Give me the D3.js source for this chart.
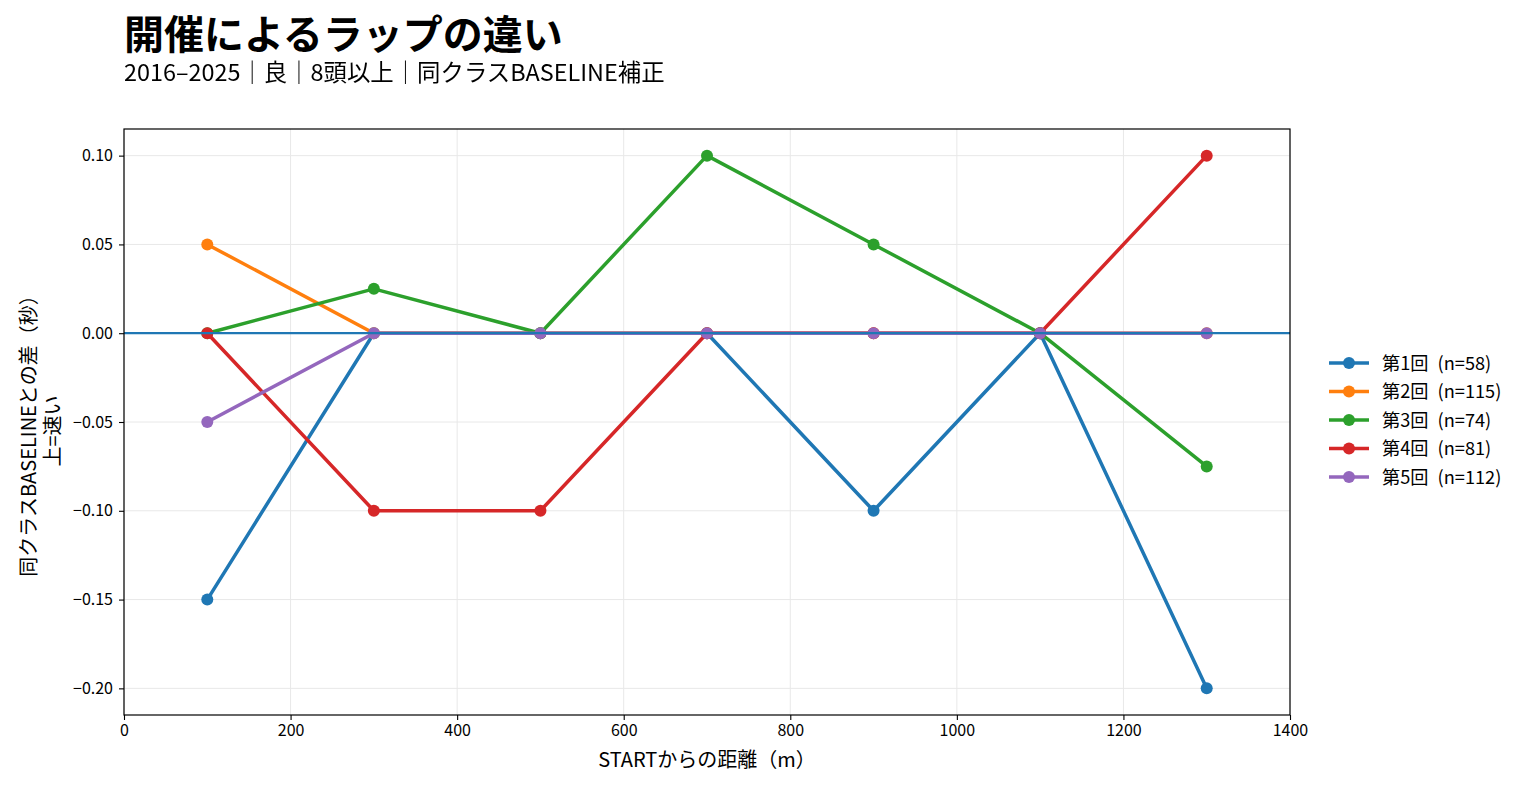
<!DOCTYPE html>
<html><head><meta charset="utf-8">
<script src="https://cdn.jsdelivr.net/npm/d3@7"></script>
<style>body{margin:0;background:#fff}text{font-family:"Noto Sans CJK JP","Noto Sans",sans-serif}.sub{filter:grayscale(1)}</style>
</head><body><svg id="c" width="1525" height="789"></svg>
<script>
const distances = [100, 300, 500, 700, 900, 1100, 1300];
const seriesNames = ["第1回 (n=58)", "第2回 (n=115)", "第3回 (n=74)", "第4回 (n=81)", "第5回 (n=112)"];
const s1 = [-0.15, 0, 0, 0, -0.10, 0, -0.20];
const s2 = [0.05, 0, 0, 0, 0, 0, 0];
const s3 = [0, 0.025, 0, 0.10, 0.05, 0, -0.075];
const s4 = [0, -0.10, -0.10, 0, 0, 0, 0.10];
const s5 = [-0.05, 0, 0, 0, 0, 0, 0];
const colors = ["#1f77b4", "#ff7f0e", "#2ca02c", "#d62728", "#9467bd"];
const xTicks = [0, 200, 400, 600, 800, 1000, 1200, 1400];
const yTicks = [0.10, 0.05, 0.00, -0.05, -0.10, -0.15, -0.20];

const allSeries = [s1, s2, s3, s4, s5];
const svg = d3.select("#c");
const L = 124, R = 1290, T = 129, B = 715;
const x = d3.scaleLinear().domain([0, 1400]).range([L, R]);
const y = d3.scaleLinear().domain([-0.215, 0.115]).range([B, T]);

// grid
svg.append("g").selectAll("line").data(xTicks).join("line")
  .attr("x1", d => x(d)).attr("x2", d => x(d)).attr("y1", T).attr("y2", B)
  .attr("stroke", "#e8e8e8").attr("stroke-width", 1);
svg.append("g").selectAll("line").data(yTicks).join("line")
  .attr("x1", L).attr("x2", R).attr("y1", d => y(d)).attr("y2", d => y(d))
  .attr("stroke", "#e8e8e8").attr("stroke-width", 1);

// axes
const fmtMinus = s => s.replace("-", "−");
const xa = svg.append("g").attr("transform", `translate(0,${B})`)
  .call(d3.axisBottom(x).tickValues(xTicks).tickFormat(d3.format("d")).tickSize(5).tickPadding(5));
const ya = svg.append("g").attr("transform", `translate(${L},0)`)
  .call(d3.axisLeft(y).tickValues(yTicks).tickFormat(d => fmtMinus(d3.format(".2f")(d))).tickSize(5).tickPadding(6));
[xa, ya].forEach(a => {
  a.select(".domain").remove();
  a.selectAll("text").attr("font-size", 16).attr("fill", "#000");
  a.selectAll("line").attr("stroke", "#000").attr("stroke-width", 1.1);
});

const line = d3.line().x((d, i) => x(distances[i])).y(d => y(d));
allSeries.forEach((s, k) => {
  svg.append("path").datum(s).attr("d", line).attr("fill", "none")
    .attr("stroke", colors[k]).attr("stroke-width", 3.5).attr("stroke-linejoin", "round");
  svg.append("g").selectAll("circle").data(s).join("circle")
    .attr("cx", (d, i) => x(distances[i])).attr("cy", d => y(d)).attr("r", 6)
    .attr("fill", colors[k]);
});
// zero line
svg.append("line").attr("x1", L).attr("x2", R).attr("y1", y(0)).attr("y2", y(0))
  .attr("stroke", "#1f77b4").attr("stroke-width", 2.2);

// frame
svg.append("rect").attr("x", L).attr("y", T).attr("width", R - L).attr("height", B - T)
  .attr("fill", "none").attr("stroke", "#000").attr("stroke-width", 1.2);

// titles
svg.append("text").attr("x", 124).attr("y", 49).attr("font-size", 40).attr("font-weight", "bold").text("開催によるラップの違い");
svg.append("text").attr("class", "sub").attr("x", 124).attr("y", 81).attr("font-size", 23.4).text("2016–2025｜良｜8頭以上｜同クラスBASELINE補正");

// axis labels
svg.append("text").attr("x", (L + R) / 2).attr("y", 767).attr("text-anchor", "middle").attr("font-size", 20).text("STARTからの距離（m）");
const yl = svg.append("text").attr("transform", `translate(36,${(T + B) / 2 + 9}) rotate(-90)`).attr("text-anchor", "middle").attr("font-size", 20);
yl.append("tspan").attr("x", 0).attr("dy", 0).text("同クラスBASELINEとの差（秒）");
yl.append("tspan").attr("x", 0).attr("dy", 24).text("上=速い");

// legend
const lg = svg.append("g");
seriesNames.forEach((n, k) => {
  const yy = 363 + k * 28.5;
  lg.append("line").attr("x1", 1329).attr("x2", 1369).attr("y1", yy).attr("y2", yy).attr("stroke", colors[k]).attr("stroke-width", 3.5);
  lg.append("circle").attr("cx", 1349).attr("cy", yy).attr("r", 6).attr("fill", colors[k]);
  lg.append("text").attr("x", 1382).attr("y", yy + 6.5).attr("font-size", 18.2).text(n.replace(" ", "\u2002"));
});
</script></body></html>
